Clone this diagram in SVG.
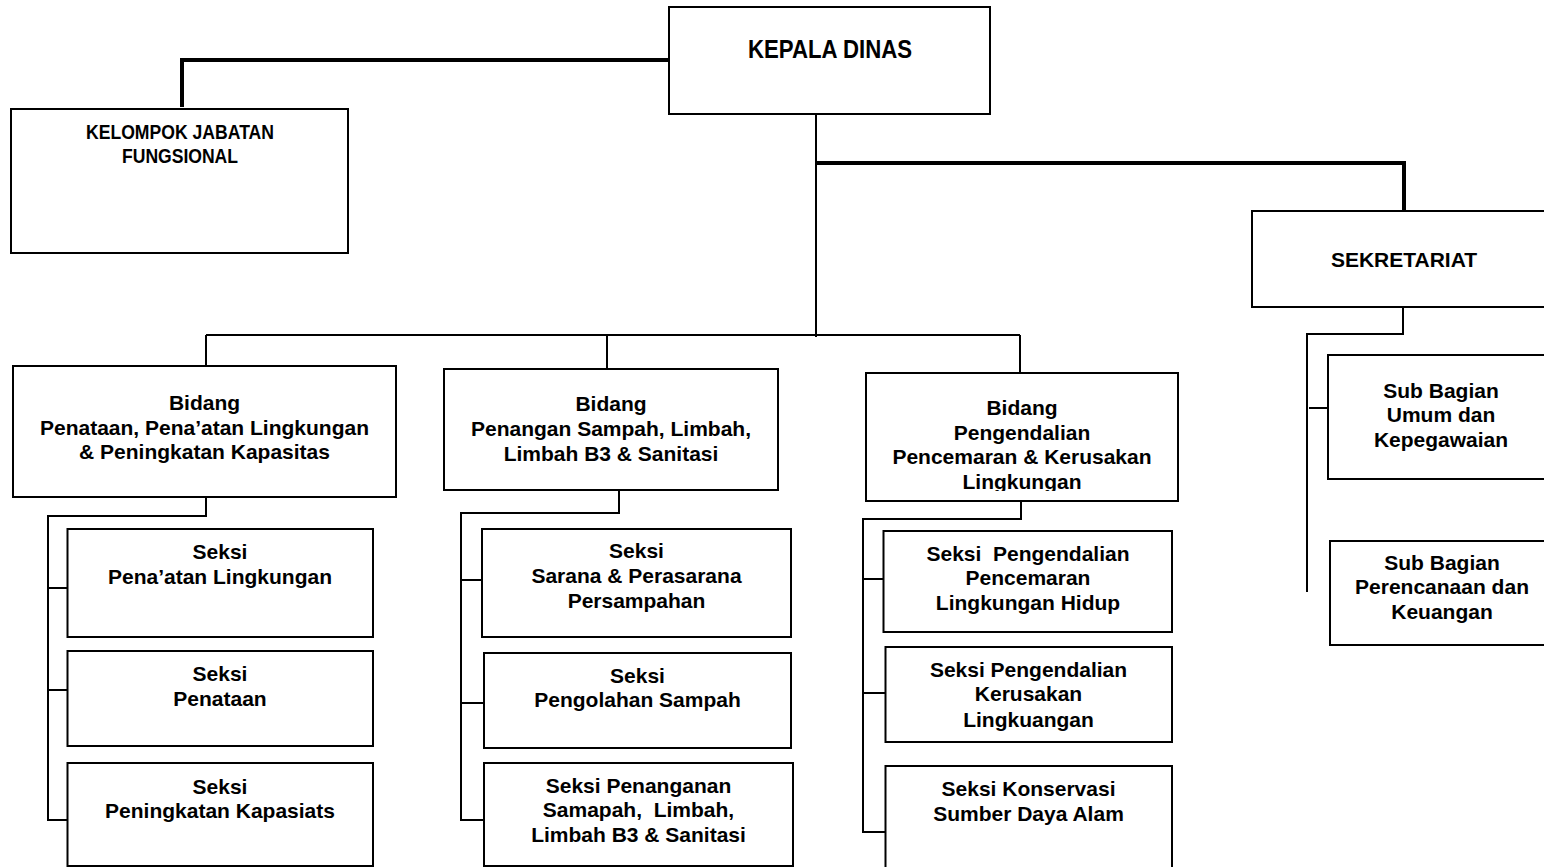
<svg xmlns="http://www.w3.org/2000/svg" width="1544" height="867" viewBox="0 0 1544 867">
<style>
.box{fill:#fff;stroke:#000;stroke-width:2}
.t{font-family:"Liberation Sans",Arial,Helvetica,sans-serif;font-weight:bold;font-size:21px;text-anchor:middle;fill:#000}
.n{font-family:"Liberation Sans Narrow","Liberation Sans",Arial,sans-serif;font-stretch:condensed;font-weight:bold;text-anchor:middle;fill:#000}
.thin{fill:none;stroke:#000;stroke-width:2}
.thick{fill:none;stroke:#000;stroke-width:4}
</style>
<defs>
<clipPath id="clipB3"><rect x="866" y="373" width="312" height="118"/></clipPath>
</defs>
<rect width="1544" height="867" fill="#fff"/>
<g id="connectors">
<polyline class="thick" points="669,60 182,60 182,107"/>
<polyline class="thick" points="816,163 1404,163 1404,211"/>
<line class="thin" x1="816" y1="114" x2="816" y2="337"/>
<line class="thin" x1="206" y1="335" x2="1020" y2="335"/>
<line class="thin" x1="206" y1="335" x2="206" y2="366"/>
<line class="thin" x1="607" y1="335" x2="607" y2="369"/>
<line class="thin" x1="1020" y1="335" x2="1020" y2="373"/>
<polyline class="thin" points="206,497 206,516 48,516 48,820 67,820"/>
<line class="thin" x1="48" y1="588" x2="67" y2="588"/>
<line class="thin" x1="48" y1="690" x2="67" y2="690"/>
<polyline class="thin" points="619,490 619,513 461,513 461,820 484,820"/>
<line class="thin" x1="461" y1="580" x2="482" y2="580"/>
<line class="thin" x1="461" y1="703" x2="484" y2="703"/>
<polyline class="thin" points="1021,501 1021,519 863,519 863,832 885,832"/>
<line class="thin" x1="863" y1="579" x2="883" y2="579"/>
<line class="thin" x1="863" y1="693" x2="885" y2="693"/>
<polyline class="thin" points="1403,307 1403,334 1307,334 1307,592"/>
<line class="thin" x1="1309" y1="408" x2="1327" y2="408"/>
</g>
<g id="kepala-dinas">
<rect class="box" x="669" y="7" width="321" height="107"/>
<text class="n" x="830" y="58" font-size="26" textLength="164" lengthAdjust="spacingAndGlyphs">KEPALA DINAS</text>
</g>
<g id="kelompok-jabatan-fungsional">
<rect class="box" x="11" y="109" width="337" height="144"/>
<text class="n" x="180" y="139" font-size="21" textLength="188" lengthAdjust="spacingAndGlyphs">KELOMPOK JABATAN</text>
<text class="n" x="180" y="162.5" font-size="21" textLength="116" lengthAdjust="spacingAndGlyphs">FUNGSIONAL</text>
</g>
<g id="sekretariat">
<rect class="box" x="1252" y="211" width="310" height="96"/>
<text class="t" x="1404" y="267">SEKRETARIAT</text>
</g>
<g id="bidang-penataan">
<rect class="box" x="13" y="366" width="383" height="131"/>
<text class="t" x="204.5" y="410">Bidang</text>
<text class="t" x="204.5" y="435">Penataan, Pena’atan Lingkungan</text>
<text class="t" x="204.5" y="459">&amp; Peningkatan Kapasitas</text>
</g>
<g id="bidang-penangan">
<rect class="box" x="444" y="369" width="334" height="121"/>
<text class="t" x="611" y="411">Bidang</text>
<text class="t" x="611" y="436">Penangan Sampah, Limbah,</text>
<text class="t" x="611" y="461">Limbah B3 &amp; Sanitasi</text>
</g>
<g id="bidang-pengendalian">
<rect class="box" x="866" y="373" width="312" height="128"/>
<g clip-path="url(#clipB3)">
<text class="t" x="1022" y="415">Bidang</text>
<text class="t" x="1022" y="440">Pengendalian</text>
<text class="t" x="1022" y="464">Pencemaran &amp; Kerusakan</text>
<text class="t" x="1022" y="488.5">Lingkungan</text>
</g>
</g>
<g id="seksi-penaatan">
<rect class="box" x="67.5" y="529" width="305.5" height="108"/>
<text class="t" x="220" y="559">Seksi</text>
<text class="t" x="220" y="584">Pena’atan Lingkungan</text>
</g>
<g id="seksi-penataan">
<rect class="box" x="67.5" y="651" width="305.5" height="95"/>
<text class="t" x="220" y="681">Seksi</text>
<text class="t" x="220" y="706">Penataan</text>
</g>
<g id="seksi-peningkatan">
<rect class="box" x="67.5" y="763" width="305.5" height="103"/>
<text class="t" x="220" y="793.5">Seksi</text>
<text class="t" x="220" y="818">Peningkatan Kapasiats</text>
</g>
<g id="seksi-sarana">
<rect class="box" x="482" y="529" width="309" height="108"/>
<text class="t" x="636.5" y="558">Seksi</text>
<text class="t" x="636.5" y="582.5">Sarana &amp; Perasarana</text>
<text class="t" x="636.5" y="607.5">Persampahan</text>
</g>
<g id="seksi-pengolahan">
<rect class="box" x="484" y="653" width="307" height="95"/>
<text class="t" x="637.5" y="683">Seksi</text>
<text class="t" x="637.5" y="707">Pengolahan Sampah</text>
</g>
<g id="seksi-penanganan">
<rect class="box" x="484" y="763" width="309" height="103"/>
<text class="t" x="638.5" y="793">Seksi Penanganan</text>
<text class="t" x="638.5" y="817" xml:space="preserve">Samapah,  Limbah,</text>
<text class="t" x="638.5" y="841.5">Limbah B3 &amp; Sanitasi</text>
</g>
<g id="seksi-pengendalian-pencemaran">
<rect class="box" x="883.5" y="531" width="288.5" height="101"/>
<text class="t" x="1028" y="560.5" xml:space="preserve">Seksi  Pengendalian</text>
<text class="t" x="1028" y="585">Pencemaran</text>
<text class="t" x="1028" y="609.5">Lingkungan Hidup</text>
</g>
<g id="seksi-pengendalian-kerusakan">
<rect class="box" x="885.5" y="647" width="286.5" height="95"/>
<text class="t" x="1028.5" y="676.5">Seksi Pengendalian</text>
<text class="t" x="1028.5" y="701">Kerusakan</text>
<text class="t" x="1028.5" y="726.5">Lingkuangan</text>
</g>
<g id="seksi-konservasi">
<rect class="box" x="885.5" y="766" width="286.5" height="110"/>
<text class="t" x="1028.5" y="796">Seksi Konservasi</text>
<text class="t" x="1028.5" y="821">Sumber Daya Alam</text>
</g>
<g id="sub-bagian-umum">
<rect class="box" x="1328" y="355" width="230" height="124"/>
<text class="t" x="1441" y="397.5">Sub Bagian</text>
<text class="t" x="1441" y="421.5">Umum dan</text>
<text class="t" x="1441" y="447">Kepegawaian</text>
</g>
<g id="sub-bagian-perencanaan">
<rect class="box" x="1330" y="541" width="228" height="104"/>
<text class="t" x="1442" y="570">Sub Bagian</text>
<text class="t" x="1442" y="594">Perencanaan dan</text>
<text class="t" x="1442" y="619">Keuangan</text>
</g>
</svg>
